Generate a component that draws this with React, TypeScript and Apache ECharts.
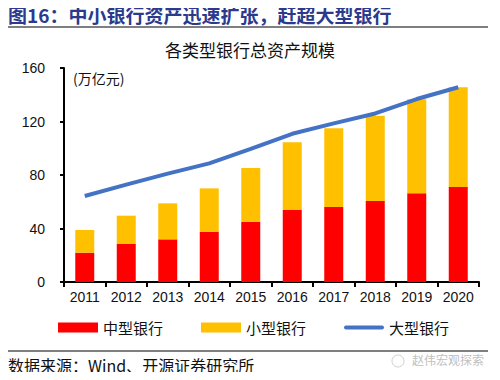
import React, { useEffect, useRef } from "react";
import * as echarts from "echarts";

const years = ["2011", "2012", "2013", "2014", "2015", "2016", "2017", "2018", "2019", "2020"];
const midBanks = [21.9, 28.4, 31.9, 37.6, 45.1, 53.8, 56.1, 60.6, 66.3, 71.0];
const smallBanks = [17.0, 21.2, 26.9, 32.4, 40.1, 50.6, 58.8, 63.7, 70.3, 74.6];
const largeBanks = [64.3, 72.8, 81.0, 88.7, 99.5, 110.8, 118.6, 126.0, 136.8, 145.6];
const yTicks = { min: 0, max: 160, interval: 40 };

const CJK = '"Noto Sans CJK SC", "Liberation Sans", sans-serif';
const LAT = '"Liberation Sans", Arial, sans-serif';

export default function App() {
  const ref = useRef<HTMLDivElement>(null);
  useEffect(() => {
    if (!ref.current) return;
    const chart = echarts.init(ref.current, undefined, { renderer: "svg" });
    chart.setOption({
      animation: false,
      backgroundColor: "#ffffff",
      title: {
        text: "各类型银行总资产规模",
        left: "center",
        top: 36,
        textStyle: { fontFamily: CJK, fontSize: 17, fontWeight: "normal", color: "#111" },
      },
      grid: { left: 64, right: 21, top: 68, bottom: 98 },
      legend: {
        bottom: 40,
        left: 53,
        itemWidth: 40,
        itemHeight: 10,
        itemGap: 38,
        textStyle: { fontFamily: CJK, fontSize: 15, color: "#111" },
        data: [
          { name: "中型银行", icon: "rect" },
          { name: "小型银行", icon: "rect" },
          { name: "大型银行", icon: "path://M2,0 L38,0 A2,2 0 0 1 38,4 L2,4 A2,2 0 0 1 2,0 Z" },
        ],
      },
      xAxis: {
        type: "category",
        data: years,
        axisLine: { lineStyle: { color: "#000", width: 2 } },
        axisTick: { show: true, length: 5, lineStyle: { color: "#000", width: 2 } },
        axisLabel: { fontFamily: LAT, fontSize: 14, color: "#111", margin: 8 },
      },
      yAxis: {
        type: "value",
        min: yTicks.min,
        max: yTicks.max,
        interval: yTicks.interval,
        splitLine: { show: false },
        axisLine: { show: true, lineStyle: { color: "#000", width: 2 } },
        axisTick: { show: true, length: 4, lineStyle: { color: "#000", width: 2 } },
        axisLabel: { fontFamily: LAT, fontSize: 14, color: "#111", margin: 19 },
      },
      series: [
        {
          name: "中型银行",
          type: "bar",
          stack: "total",
          barWidth: 19,
          itemStyle: { color: "#FF0000" },
          data: midBanks,
        },
        {
          name: "小型银行",
          type: "bar",
          stack: "total",
          barWidth: 19,
          itemStyle: { color: "#FFC000" },
          data: smallBanks,
        },
        {
          name: "大型银行",
          type: "line",
          symbol: "none",
          lineStyle: { color: "#4472C4", width: 4 },
          itemStyle: { color: "#4472C4" },
          data: largeBanks,
        },
      ],
      graphic: [
        {
          type: "text",
          x: 8,
          y: 14,
          style: {
            text: "图16：中小银行资产迅速扩张，赶超大型银行",
            fontFamily: CJK,
            fontSize: 19,
            fontWeight: "bold",
            fill: "#2B3A8C",
            verticalAlign: "middle",
            align: "left",
          },
        },
        {
          type: "line",
          shape: { x1: 7, y1: 27, x2: 488, y2: 27 },
          style: { stroke: "#7f7f7f", lineWidth: 2 },
        },
        {
          type: "text",
          left: 73,
          top: 71,
          style: { text: "(万亿元)", fontFamily: CJK, fontSize: 14, fill: "#111" },
        },
        {
          type: "line",
          shape: { x1: 7, y1: 351, x2: 488, y2: 351 },
          style: { stroke: "#7f7f7f", lineWidth: 2 },
        },
        {
          type: "text",
          left: 8,
          top: 357,
          style: { text: "数据来源：Wind、开源证券研究所", fontFamily: CJK, fontSize: 16, fill: "#111" },
        },
        {
          type: "circle",
          shape: { cx: 398, cy: 361, r: 6 },
          style: { fill: "none", stroke: "#d0d0d0", lineWidth: 1 },
        },
        {
          type: "text",
          left: 412,
          top: 353,
          style: { text: "赵伟宏观探索", fontFamily: CJK, fontSize: 12, fill: "#c0c0c0" },
        },
      ],
    });
    return () => chart.dispose();
  }, []);
  return <div ref={ref} style={{ width: 500, height: 380, margin: -8 }} />;
}
